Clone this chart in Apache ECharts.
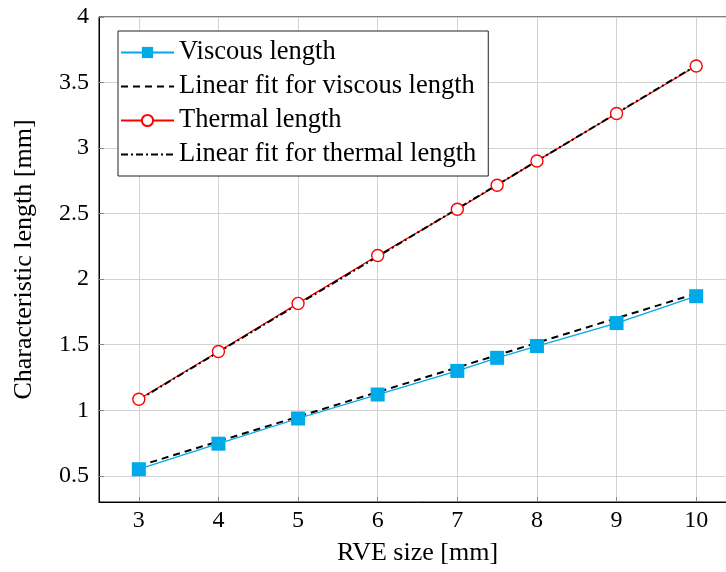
<!DOCTYPE html>
<html>
<head>
<meta charset="utf-8">
<script src="https://cdn.jsdelivr.net/npm/echarts@6/dist/echarts.min.js"></script>
<style>
    html, body { margin: 0; padding: 0; background: #fff; overflow: hidden; }
    #chart { width: 736px; height: 572px; }
</style>
</head>
<body>
<div id="chart"></div>
<script>
    // 数据
    const rveSize = [3, 4, 5, 6, 7, 7.5, 8, 9, 10]
    const viscousLength = [0.55, 0.745, 0.937, 1.12, 1.30, 1.40, 1.49, 1.665, 1.87]
    const thermalLength = [1.084, 1.448, 1.815, 2.18, 2.533, 2.717, 2.902, 3.264, 3.626]
    const fitX = [3, 10]
    const viscousFit = [0.575, 1.89]
    const thermalFit = [1.08, 3.63]
    const xTicks = [3, 4, 5, 6, 7, 8, 9, 10]
    const yTicks = [0.5, 1, 1.5, 2, 2.5, 3, 3.5, 4]

    const font = 'Liberation Serif'
    const pairs = (xs, ys) => xs.map((x, i) => [x, ys[i]])

    const mChart = echarts.init(document.getElementById('chart'))
    const option = {
        animation: false,
        textStyle: { fontFamily: font },
        grid: {
            left: 99, right: 0, top: 17, bottom: 70,
            show: true,
            borderColor: '#000',
            borderWidth: 1
        },
        legend: {
            orient: 'vertical',
            left: 118,
            top: 31,
            padding: [8, 12, 8, 2],
            itemGap: 7,
            itemWidth: 53,
            itemHeight: 14,
            backgroundColor: '#fff',
            borderColor: '#222',
            borderWidth: 1,
            borderRadius: 0,
            textStyle: { fontFamily: font, fontSize: 26.5, lineHeight: 26, color: '#000' }
        },
        // x 轴
        xAxis: {
            type: 'value',
            min: 2.5,
            max: 10.5,
            name: 'RVE size [mm]',
            nameLocation: 'middle',
            nameGap: 38,
            nameTextStyle: { fontFamily: font, fontSize: 26, color: '#000' },
            axisLine: { show: true, onZero: false, lineStyle: { color: '#000', width: 1 } },
            axisTick: { show: true, inside: true, length: 5, customValues: xTicks, lineStyle: { color: '#888' } },
            axisLabel: { customValues: xTicks, fontFamily: font, fontSize: 24, color: '#000', margin: 7 },
            splitLine: { show: true, lineStyle: { color: '#d2d2d2', width: 1 } }
        },
        // y 轴
        yAxis: {
            type: 'value',
            min: 0.3,
            max: 4,
            name: 'Characteristic length [mm]',
            nameLocation: 'middle',
            nameGap: 62,
            nameTextStyle: { fontFamily: font, fontSize: 26, color: '#000' },
            axisLine: { show: true, onZero: false, lineStyle: { color: '#000', width: 1 } },
            axisTick: { show: true, inside: true, length: 5, customValues: yTicks, lineStyle: { color: '#888' } },
            axisLabel: { customValues: yTicks, fontFamily: font, fontSize: 24, color: '#000', margin: 10 },
            splitLine: { show: true, lineStyle: { color: '#d2d2d2', width: 1 } }
        },
        series: [
            {
                name: 'Viscous length',
                type: 'line',
                data: pairs(rveSize, viscousLength),
                symbol: 'rect',
                symbolSize: 14,
                color: '#00a9e8',
                lineStyle: { color: '#00a9e8', width: 1.3 },
                itemStyle: { color: '#00a9e8' }
            },
            {
                name: 'Linear fit for viscous length',
                type: 'line',
                data: pairs(fitX, viscousFit),
                symbol: 'circle',
                showSymbol: false,
                color: '#000',
                itemStyle: { color: '#000', opacity: 0 },
                lineStyle: { color: '#000', width: 2, type: [7, 5], opacity: 1 }
            },
            {
                name: 'Thermal length',
                type: 'line',
                data: pairs(rveSize, thermalLength),
                symbol: 'circle',
                symbolSize: 12,
                color: '#ff0000',
                lineStyle: { color: '#ff0000', width: 1.3 },
                itemStyle: { color: '#fff', borderColor: '#ff0000', borderWidth: 1.4 }
            },
            {
                name: 'Linear fit for thermal length',
                type: 'line',
                data: pairs(fitX, thermalFit),
                symbol: 'circle',
                showSymbol: false,
                color: '#000',
                itemStyle: { color: '#000', opacity: 0 },
                lineStyle: { color: '#000', width: 2, type: [7, 3, 2, 3], opacity: 1 }
            }
        ]
    }
    mChart.setOption(option)
    window.addEventListener('resize', function() {
        mChart.resize()
    })
</script>
</body>
</html>
